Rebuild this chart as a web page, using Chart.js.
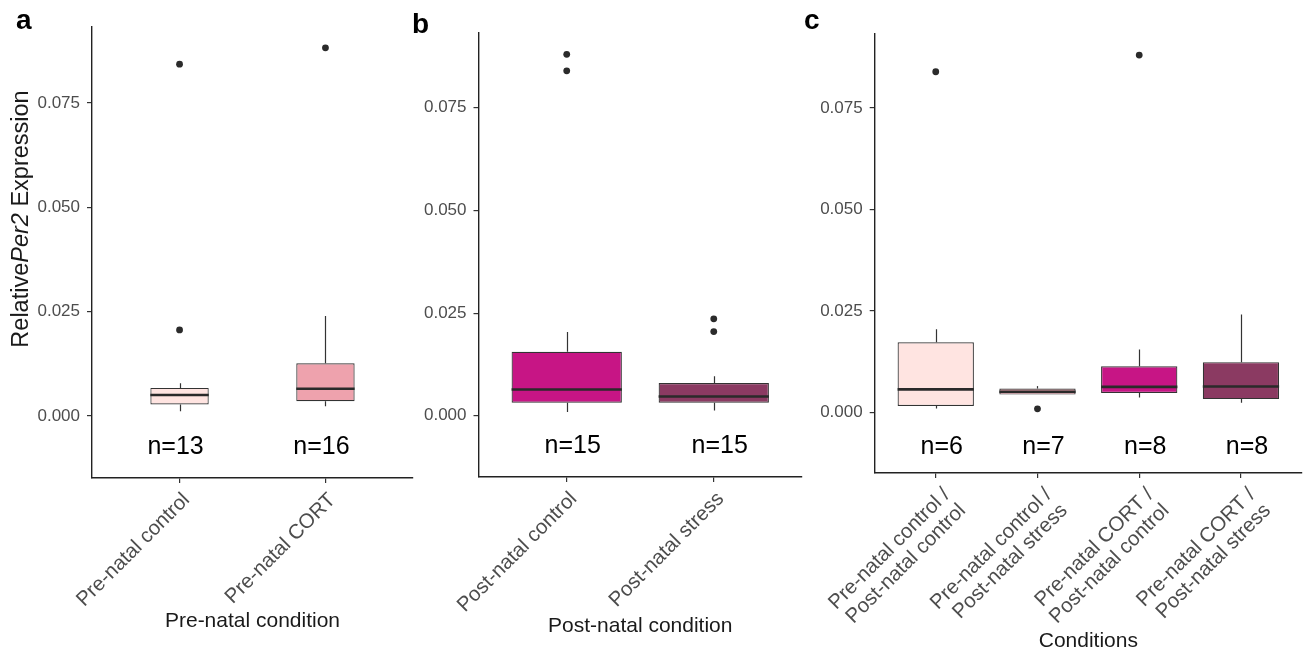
<!DOCTYPE html>
<html>
<head>
<meta charset="utf-8">
<script src="https://cdn.jsdelivr.net/npm/chart.js@4.4.1/dist/chart.umd.min.js"></script>
<style>
  html, body { margin: 0; padding: 0; background: #fff; }
  #wrap { position: relative; width: 1306px; height: 655px; overflow: hidden; font-family: "Liberation Sans", Arial, sans-serif; }
  #wrap canvas { position: absolute; top: 0; }
  .tag { position: absolute; font-weight: bold; font-size: 28px; line-height: 28px; color: #000; }
  #ytitle { position: absolute; left: 20px; top: 219px; transform: translate(-50%, -50%) rotate(-90deg);
            white-space: nowrap; font-size: 23.5px; color: #1a1a1a; }
</style>
</head>
<body>
<div id="wrap">
  <canvas id="chartA" width="420" height="655" style="left:0px"></canvas>
  <canvas id="chartB" width="410" height="655" style="left:400px"></canvas>
  <canvas id="chartC" width="506" height="655" style="left:800px"></canvas>
  <div class="tag" style="left:16px;top:6px">a</div>
  <div class="tag" style="left:412px;top:10px">b</div>
  <div class="tag" style="left:804px;top:6px">c</div>
  <div id="ytitle">Relative<i>Per2</i> Expression</div>
</div>
<script>
// shared y axis
const yTicks = [0, 0.025, 0.05, 0.075];
const yMin = -0.0149;
const yMax = 0.0932;

// panel a – pre-natal condition
const aLabels = ['Pre-natal control', 'Pre-natal CORT'];
const aLo  = [0.0011, 0.0023];
const aQ1  = [0.0027, 0.0035];
const aMed = [0.0050, 0.0065];
const aQ3  = [0.0067, 0.0126];
const aHi  = [0.0078, 0.0239];
const aOut = [[0.0206, 0.0843], [0.0882]];
const aN   = [13, 16];
const aColors = ['#FFE4E1', '#EEA2AD'];

// panel b – post-natal condition
const bLabels = ['Post-natal control', 'Post-natal stress'];
const bLo  = [0.0009, 0.0013];
const bQ1  = [0.0032, 0.0032];
const bMed = [0.0064, 0.0047];
const bQ3  = [0.0156, 0.0080];
const bHi  = [0.0204, 0.0096];
const bOut = [[0.0880, 0.0840], [0.0236, 0.0205]];
const bN   = [15, 15];
const bColors = ['#C71585', '#8B3A62'];

// panel c – combined conditions
const cLabels = [
  ['Pre-natal control /', 'Post-natal control'],
  ['Pre-natal control /', 'Post-natal stress'],
  ['Pre-natal CORT /', 'Post-natal control'],
  ['Pre-natal CORT /', 'Post-natal stress']
];
const cLo  = [0.0010, 0.0044, 0.0037, 0.0024];
const cQ1  = [0.0016, 0.0044, 0.0048, 0.0033];
const cMed = [0.0057, 0.0051, 0.0063, 0.0064];
const cQ3  = [0.0173, 0.0059, 0.0114, 0.0124];
const cHi  = [0.0205, 0.0065, 0.0155, 0.0241];
const cOut = [[0.0839], [0.0009], [0.0880], []];
const cN   = [6, 7, 8, 8];
const cColors = ['#FFE4E1', '#EEA2AD', '#C71585', '#8B3A62'];

const FONT = '"Liberation Sans", Arial, sans-serif';

// whiskers, medians and n= labels, placed through the chart scales
const boxExtras = {
  id: 'boxExtras',
  afterDatasetsDraw(chart, args, o) {
    const ctx = chart.ctx;
    const x = chart.scales.x, y = chart.scales.y;
    const bars = chart.getDatasetMeta(0).data;
    ctx.save();
    ctx.lineCap = 'butt';
    o.med.forEach((m, i) => {
      const px = Math.round(x.getPixelForValue(i + 1)) + 0.5;
      ctx.strokeStyle = '#333';
      ctx.lineWidth = 1.2;
      ctx.beginPath();
      ctx.moveTo(px, y.getPixelForValue(o.hi[i]));
      ctx.lineTo(px, y.getPixelForValue(o.q3[i]));
      ctx.moveTo(px, y.getPixelForValue(o.q1[i]));
      ctx.lineTo(px, y.getPixelForValue(o.lo[i]));
      ctx.stroke();
      const half = bars[i].width / 2;
      ctx.strokeStyle = '#2a2a2a';
      ctx.lineWidth = 2.6;
      ctx.beginPath();
      ctx.moveTo(bars[i].x - half, y.getPixelForValue(m));
      ctx.lineTo(bars[i].x + half, y.getPixelForValue(m));
      ctx.stroke();
      ctx.fillStyle = '#000';
      ctx.font = '25px ' + FONT;
      ctx.textAlign = 'center';
      ctx.textBaseline = 'middle';
      ctx.fillText('n=' + o.n[i], x.getPixelForValue(i + 1) + o.nShift, y.getPixelForValue(o.nY));
    });
    ctx.restore();
  }
};

function makePanel(id, p) {
  const el = document.getElementById(id);
  const W = el.width, H = el.height;
  const boxes = p.q1.map((q, i) => ({ x: i + 1, y: [q, p.q3[i]] }));
  const outliers = [];
  p.out.forEach((arr, i) => arr.forEach(v => outliers.push({ x: i + 1, y: v })));

  return new Chart(el.getContext('2d'), {
    type: 'bar',
    data: {
      datasets: [{
        type: 'bar',
        data: boxes,
        backgroundColor: p.colors,
        borderColor: '#333',
        borderWidth: 1.2,
        borderSkipped: false,
        categoryPercentage: 1,
        barPercentage: p.boxWidth
      }, {
        type: 'scatter',
        data: outliers,
        pointRadius: 3.4,
        pointBackgroundColor: '#2b2b2b',
        pointBorderWidth: 0
      }]
    },
    options: {
      responsive: false,
      animation: false,
      layout: { padding: { left: 0, top: p.top, right: W - p.right, bottom: 0 } },
      plugins: {
        legend: { display: false },
        tooltip: { enabled: false },
        boxExtras: { lo: p.lo, q1: p.q1, med: p.med, q3: p.q3, hi: p.hi, n: p.n, nY: p.nY, nShift: p.nShift }
      },
      scales: {
        x: {
          type: 'linear',
          min: 0.4,
          max: p.labels.length + 0.6,
          offset: false,
          afterBuildTicks: s => { s.ticks = p.labels.map((_, i) => ({ value: i + 1 })); },
          afterFit: s => { s.height = H - p.bottom; s.paddingLeft = 0; s.paddingRight = 0; },
          ticks: {
            autoSkip: false,
            minRotation: 45,
            maxRotation: 45,
            padding: p.labelPad,
            labelOffset: p.labelShift,
            color: '#4d4d4d',
            font: { family: FONT, size: 20.5, lineHeight: 1.08 },
            callback: v => p.labels[Math.round(v) - 1]
          },
          grid: { offset: false, drawOnChartArea: false, drawTicks: true, tickLength: 5, color: '#333', lineWidth: 1.2 },
          border: { display: true, color: '#222', width: 1.4 },
          title: {
            display: true,
            text: p.xTitle,
            color: '#1a1a1a',
            font: { family: FONT, size: 21 },
            padding: { top: 0, bottom: p.titlePad }
          }
        },
        y: {
          min: yMin,
          max: yMax,
          afterBuildTicks: s => { s.ticks = yTicks.map(v => ({ value: v })); },
          afterFit: s => { s.width = p.left; s.paddingTop = 0; s.paddingBottom = 0; },
          ticks: {
            padding: 7,
            color: '#4d4d4d',
            font: { family: FONT, size: 17 },
            callback: v => v.toFixed(3)
          },
          grid: { drawOnChartArea: false, drawTicks: true, tickLength: 5, color: '#333', lineWidth: 1.2 },
          border: { display: true, color: '#222', width: 1.4 }
        }
      }
    },
    plugins: [boxExtras]
  });
}

makePanel('chartA', {
  labels: aLabels, lo: aLo, q1: aQ1, med: aMed, q3: aQ3, hi: aHi, out: aOut, n: aN, colors: aColors,
  nY: -0.0074, nShift: -4, boxWidth: 0.4, xTitle: 'Pre-natal condition',
  left: 92, right: 413, top: 27, bottom: 478, titlePad: 21, labelPad: 6, labelShift: 7
});
makePanel('chartB', {
  labels: bLabels, lo: bLo, q1: bQ1, med: bMed, q3: bQ3, hi: bHi, out: bOut, n: bN, colors: bColors,
  nY: -0.0075, nShift: 6, boxWidth: 0.75, xTitle: 'Post-natal condition',
  left: 78.5, right: 402, top: 33, bottom: 477, titlePad: 16, labelPad: 6, labelShift: 7
});
makePanel('chartC', {
  labels: cLabels, lo: cLo, q1: cQ1, med: cMed, q3: cQ3, hi: cHi, out: cOut, n: cN, colors: cColors,
  nY: -0.0085, nShift: 6, boxWidth: 0.75, xTitle: 'Conditions',
  left: 74.7, right: 504.7, top: 34, bottom: 473, titlePad: 1, labelPad: 6, labelShift: 11
});
</script>
</body>
</html>
